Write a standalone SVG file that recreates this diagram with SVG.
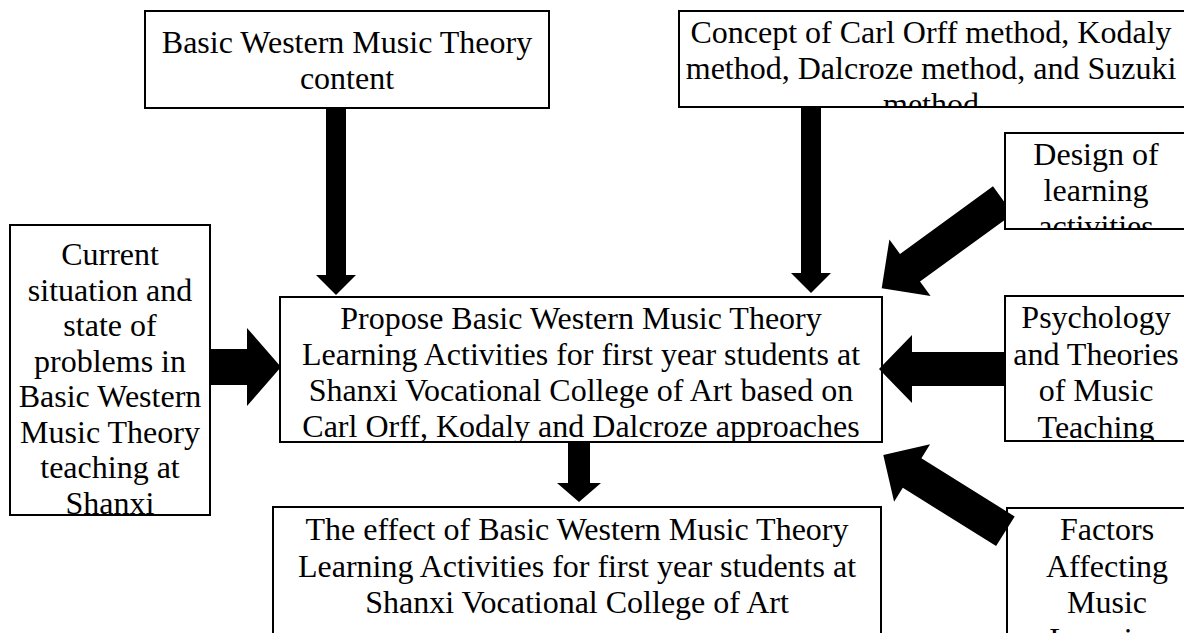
<svg xmlns="http://www.w3.org/2000/svg" width="1184" height="633" viewBox="0 0 1184 633">
<style>
.box{fill:#fff;stroke:#000;stroke-width:2}
.t{font-family:"Liberation Serif","Times New Roman",serif;font-size:32px;fill:#000;text-anchor:middle}
.arr{fill:#000;stroke:none}
</style>
<defs>
<clipPath id="c1"><rect x="146" y="12" width="402" height="95"/></clipPath>
<clipPath id="c2"><rect x="680" y="12" width="510" height="94"/></clipPath>
<clipPath id="c3"><rect x="1006" y="134" width="190" height="94"/></clipPath>
<clipPath id="c4"><rect x="11" y="226" width="198" height="288"/></clipPath>
<clipPath id="c5"><rect x="281" y="298" width="600" height="143"/></clipPath>
<clipPath id="c6"><rect x="1006" y="297" width="190" height="143"/></clipPath>
<clipPath id="c7"><rect x="274" y="508" width="606" height="130"/></clipPath>
<clipPath id="c8"><rect x="1008" y="509" width="200" height="130"/></clipPath>
</defs>
<rect width="1184" height="633" fill="#fff"/>
<g id="n-basic">
<rect class="box" x="145" y="11" width="404" height="97"/>
<g clip-path="url(#c1)"><text class="t" x="347" y="53">Basic Western Music Theory</text><text class="t" x="347" y="89">content</text></g>
</g>
<g id="n-concept">
<rect class="box" x="679" y="11" width="512" height="96"/>
<g clip-path="url(#c2)"><text class="t" x="931" y="43">Concept of Carl Orff method, Kodaly</text><text class="t" x="931" y="79">method, Dalcroze method, and Suzuki</text><text class="t" x="931" y="115">method</text></g>
</g>
<g id="n-design">
<rect class="box" x="1005" y="133" width="191" height="96"/>
<g clip-path="url(#c3)"><text class="t" x="1096" y="165">Design of</text><text class="t" x="1096" y="201">learning</text><text class="t" x="1096" y="237">activities</text></g>
</g>
<g id="n-current">
<rect class="box" x="10" y="225" width="200" height="290"/>
<g clip-path="url(#c4)"><text class="t" x="110" y="265">Current</text><text class="t" x="110" y="300.5">situation and</text><text class="t" x="110" y="336">state of</text><text class="t" x="110" y="371.5">problems in</text><text class="t" x="110" y="407">Basic Western</text><text class="t" x="110" y="442.5">Music Theory</text><text class="t" x="110" y="478">teaching at</text><text class="t" x="110" y="513.5">Shanxi</text></g>
</g>
<g id="n-propose">
<rect class="box" x="280" y="297" width="602" height="145"/>
<g clip-path="url(#c5)"><text class="t" x="581" y="329">Propose Basic Western Music Theory</text><text class="t" x="581" y="365">Learning Activities for first year students at</text><text class="t" x="581" y="401">Shanxi Vocational College of Art based on</text><text class="t" x="581" y="437">Carl Orff, Kodaly and Dalcroze approaches</text></g>
</g>
<g id="n-psychology">
<rect class="box" x="1005" y="296" width="191" height="145"/>
<g clip-path="url(#c6)"><text class="t" x="1096" y="328">Psychology</text><text class="t" x="1096" y="365">and Theories</text><text class="t" x="1096" y="401">of Music</text><text class="t" x="1096" y="438">Teaching</text></g>
</g>
<g id="n-effect">
<rect class="box" x="273" y="507" width="608" height="140"/>
<g clip-path="url(#c7)"><text class="t" x="577" y="540">The effect of Basic Western Music Theory</text><text class="t" x="577" y="576.5">Learning Activities for first year students at</text><text class="t" x="577" y="613">Shanxi Vocational College of Art</text></g>
</g>
<g id="n-factors">
<rect class="box" x="1007" y="508" width="210" height="140"/>
<g clip-path="url(#c8)"><text class="t" x="1107" y="540">Factors</text><text class="t" x="1107" y="577">Affecting</text><text class="t" x="1107" y="613">Music</text><text class="t" x="1107" y="650">Learning</text></g>
</g>
<g id="connectors">
<polygon class="arr" points="326,108 346,108 346,275 356,275 336,295 316,275 326,275"/>
<polygon class="arr" points="801,107 821,107 821,273 831,273 811,293 791,273 801,273"/>
<polygon class="arr" points="210,349 247,349 247,328 281,367 247,406 247,385 210,385"/>
<polygon class="arr" points="1005,352 912,352 912,335 879,369 912,403 912,386 1005,386"/>
<polygon class="arr" points="568,442 590,442 590,483 601,483 579,502 557,483 568,483"/>
<polygon class="arr" points="993,186.3 900,253.9 889.4,239.4 881.7,288.3 930.6,296 920,281.5 1004,220.5 1004,201.4"/>
<polygon class="arr" points="883.3,455 930.1,444.2 921.4,458.2 1014.7,516.5 996.1,546.1 902.8,487.8 894.1,501.8"/>
</g>
</svg>
